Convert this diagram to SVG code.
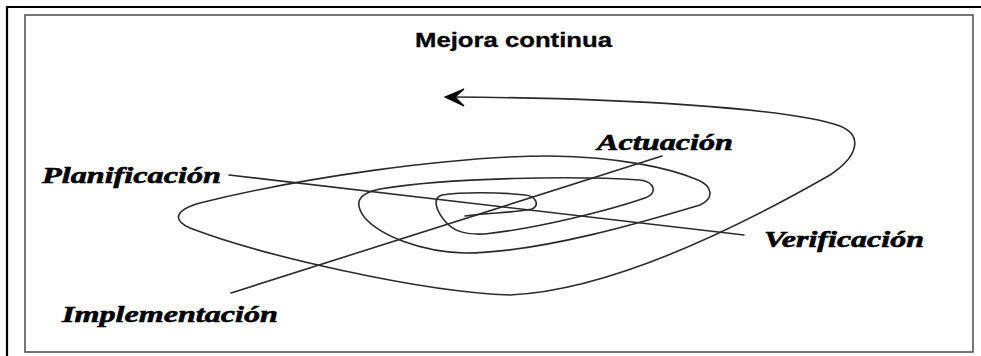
<svg xmlns="http://www.w3.org/2000/svg" width="981" height="356" viewBox="0 0 981 356">
<style>
.lbl{font-family:"Liberation Serif","Times New Roman",serif;font-weight:bold;font-style:italic;font-size:24px;fill:#000;stroke:#000;stroke-width:0.6}
.ttl{font-family:"Liberation Sans",Arial,sans-serif;font-weight:bold;font-size:20px;fill:#000;stroke:#000;stroke-width:0.3}
.ln{fill:none;stroke:#2a2a2a;stroke-width:1.6;stroke-linecap:round;stroke-linejoin:round}
</style>
<rect x="0" y="0" width="981" height="356" fill="#fff"/>
<g id="frame">
<path d="M7 356 V7 H981" fill="none" stroke="#000" stroke-width="2.2"/>
<rect x="25" y="15" width="948" height="337" fill="none" stroke="#555" stroke-width="1.6"/>
</g>
<g id="title"><text class="ttl" x="415" y="47" textLength="197" lengthAdjust="spacingAndGlyphs">Mejora continua</text></g>
<g id="connectors">
<path class="ln" d="M229 175 L744 235"/>
<path class="ln" d="M231 293 L662 156"/>
<path class="ln" d="M465 216 C490 213 520 212 532 209 C540 205 536 196 525 195 C500 192 460 192 442 195 C432 198 436 210 444 220 C452 230 462 235 485 234 C540 228 610 210 645 198 C658 193 655 182 640 180 C580 176 450 177 380 189 C355 194 355 205 365 218 C380 235 420 252 465 253 C540 253 650 220 700 205 C715 198 712 186 698 180 C670 168 620 157 550 156 C450 156 300 178 200 203 C175 210 172 220 190 228 C260 255 420 292 510 295 C620 290 760 215 830 175 C860 155 862 135 840 126 C790 108 620 98 452 97"/>
<path d="M464 89 L445 97 L464 106 L455 97 Z" fill="#000" stroke="#000" stroke-width="1.2" stroke-linejoin="miter"/>
</g>
<g id="planificacion"><text class="lbl" x="42" y="183" textLength="179" lengthAdjust="spacingAndGlyphs">Planificación</text></g>
<g id="actuacion"><text class="lbl" x="597" y="150" textLength="136" lengthAdjust="spacingAndGlyphs">Actuación</text></g>
<g id="verificacion"><text class="lbl" x="764" y="247" textLength="160" lengthAdjust="spacingAndGlyphs">Verificación</text></g>
<g id="implementacion"><text class="lbl" x="62" y="322" textLength="216" lengthAdjust="spacingAndGlyphs">Implementación</text></g>
</svg>
